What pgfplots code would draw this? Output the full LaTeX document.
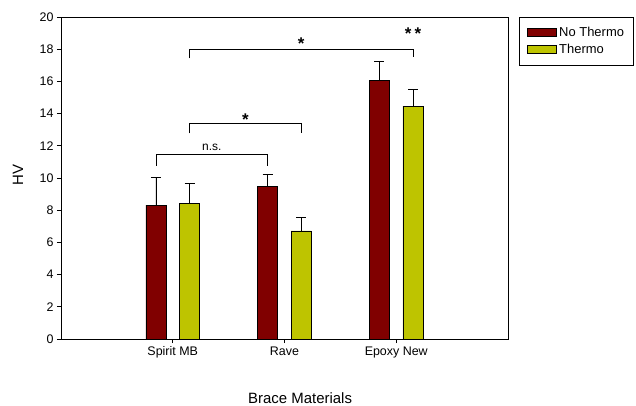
\documentclass[border=0pt]{standalone}
\usepackage{pgfplots}
\pgfplotsset{compat=1.18}
\usepackage{fontspec}
\setmainfont{Liberation Sans}
\definecolor{noth}{RGB}{128,0,0}
\definecolor{th}{RGB}{190,196,0}
\begin{document}
\begin{tikzpicture}
\useasboundingbox (-61bp,-67bp) rectangle (575bp,339bp);
\begin{axis}[
  at={(0,0)}, anchor=south west,
  scale only axis, width=447bp, height=322bp,
  xmin=-1, xmax=3, ymin=0, ymax=20,
  xtick={0,1,2}, xticklabels={Spirit MB, Rave, Epoxy New},
  ytick={0,2,...,20},
  tick align=outside, xtick pos=bottom, ytick pos=left,
  major tick length=4bp,
  tick style={black, line width=0.8bp},
  ticklabel style={font=\fontsize{12.5}{14}\selectfont},
  /pgf/number format/assume math mode=true,
  xlabel={Brace Materials}, ylabel={HV},
  label style={font=\fontsize{15}{17}\selectfont},
  xlabel style={at={(axis description cs:0.535,-0.183)}, anchor=center},
  ylabel style={at={(axis description cs:-0.096,0.509)}, anchor=center},
  axis line style={line width=0.9bp},
  legend style={at={(rel axis cs:1.0246,1)}, anchor=north west, draw=black, line width=0.9bp,
    font=\fontsize{13}{14}\selectfont, cells={anchor=west}, row sep=2bp, inner xsep=8bp, inner ysep=8bp},
  legend image code/.code={\draw[#1, line width=0.8bp] (0bp,-4bp) rectangle (29bp,4bp);},
]
\addplot[ybar, bar width=0.18, bar shift=0, fill=noth, draw=black, line width=0.8bp,
  error bars/.cd, y dir=plus, y explicit, error mark=-,
  error bar style={black, line width=0.8bp},
  error mark options={black, mark size=5bp, line width=0.8bp, rotate=90}]
  coordinates {(-0.15,8.32) +- (0,1.74) (0.85,9.46) +- (0,0.77) (1.85,16.04) +- (0,1.23)};
\addlegendentry{\makebox[64bp][l]{No Thermo}}
\addplot[ybar, bar width=0.18, bar shift=0, fill=th, draw=black, line width=0.8bp,
  error bars/.cd, y dir=plus, y explicit, error mark=-,
  error bar style={black, line width=0.8bp},
  error mark options={black, mark size=5bp, line width=0.8bp, rotate=90}]
  coordinates {(0.15,8.43) +- (0,1.24) (1.15,6.71) +- (0,0.85) (2.15,14.47) +- (0,1.04)};
\addlegendentry{\makebox[64bp][l]{Thermo}}
% significance brackets
\draw[line width=0.9bp] (axis cs:-0.15,10.76) -- (axis cs:-0.15,11.49) -- (axis cs:0.85,11.49) -- (axis cs:0.85,10.76);
\node[anchor=base, font=\fontsize{12}{14}\selectfont] at (axis cs:0.35,11.69) {n.s.};
\draw[line width=0.9bp] (axis cs:0.15,12.77) -- (axis cs:0.15,13.4) -- (axis cs:1.15,13.4) -- (axis cs:1.15,12.77);
\node[anchor=base, font=\fontsize{17}{18}\selectfont\bfseries] at (axis cs:0.65,13.27) {*};
\draw[line width=0.9bp] (axis cs:0.15,17.43) -- (axis cs:0.15,18.0) -- (axis cs:2.15,18.0) -- (axis cs:2.15,17.5);
\node[anchor=base, font=\fontsize{17}{18}\selectfont\bfseries] at (axis cs:1.15,18.0) {*};
\node[anchor=base, font=\fontsize{17}{18}\selectfont\bfseries] at (axis cs:2.15,18.6) {*\hspace{3bp}*};
\end{axis}
\end{tikzpicture}
\end{document}
